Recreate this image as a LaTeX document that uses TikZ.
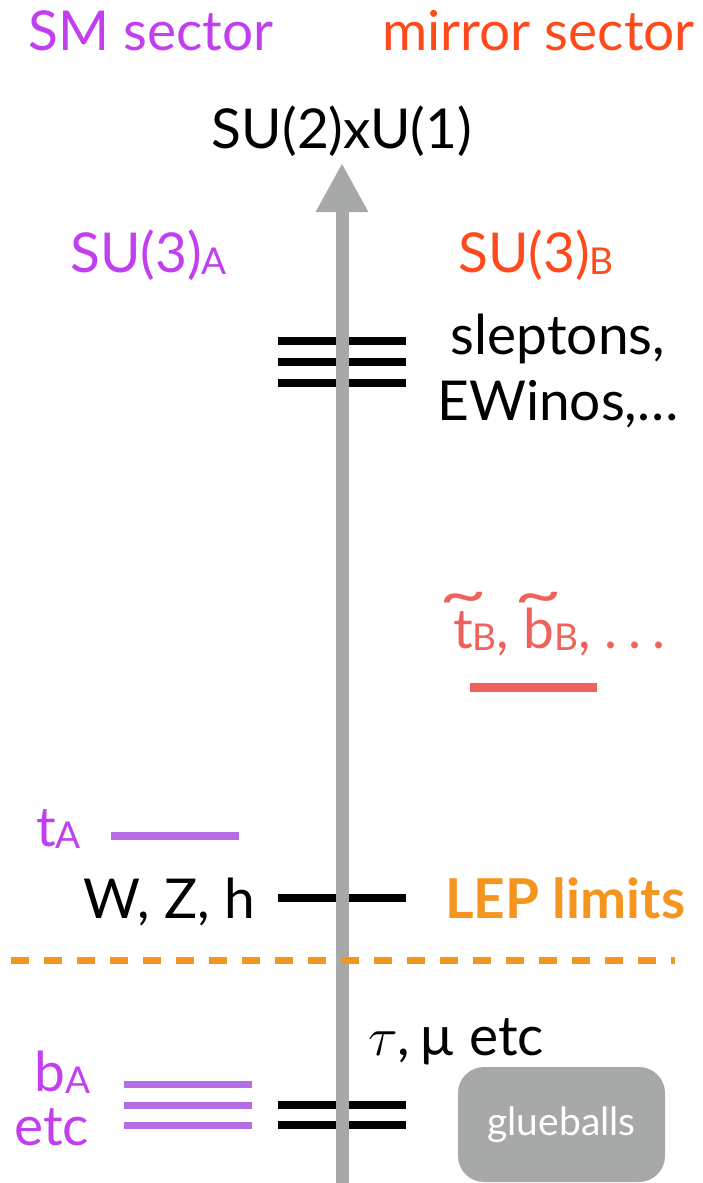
\RequirePackage{fix-cm}
\documentclass[tikz,border=0pt]{standalone}
\usepackage{fontspec}
\setmainfont{Lato}
\usepackage{xcolor}
\usepackage{graphicx}
\usepackage{tikz}
\usetikzlibrary{arrows.meta, positioning}

\definecolor{smpurple}{HTML}{C23FF0}
\definecolor{mirred}{HTML}{FF4A1C}
\definecolor{sqred}{HTML}{EF625C}
\definecolor{levpurple}{HTML}{B46DE3}
\definecolor{lepor}{HTML}{F3951F}
\definecolor{axgray}{HTML}{A6A9A8}

\tikzstyle{lbl} = [inner sep=0pt, font=\fontsize{55}{64}\selectfont]
\tikzstyle{lev} = [rectangle, inner sep=0pt, minimum width=128pt, minimum height=8pt]
\tikzstyle{axis} = [line width=13pt, draw=axgray, -{Triangle[length=49pt, width=49pt]}]
\tikzstyle{lepdash} = [draw=lepor, line width=7pt, dash pattern=on 18pt off 15pt]
\tikzstyle{glbox} = [rectangle, rounded corners=26pt, fill=axgray, minimum width=207pt, minimum height=115pt, text=white, font=\fontsize{39}{45}\selectfont]

\newcommand{\sbs}[1]{\raisebox{-0.04em}{\fontsize{37}{37}\selectfont #1}}
\newcommand{\wt}[1]{\leavevmode\setbox0\hbox{#1}\rlap{\hbox to\wd0{\hss\raisebox{0.6em}{\scalebox{1.5}[1.1]{\char"7E}}\hss}}#1}

\begin{document}
\begin{tikzpicture}[x=1pt, y=-1pt]
    \useasboundingbox (0,0) rectangle (702,1183);

    % Levels
    \node [lev, fill=black] (sl1) at (342,341) {};
    \node [lev, fill=black] (sl2) at (342,362) {};
    \node [lev, fill=black] (sl3) at (342,383) {};
    \node [lev, fill=sqred, minimum width=127pt, minimum height=9pt] (sqlev) at (533.5,687) {};
    \node [lev, fill=levpurple] (tlev) at (175,836) {};
    \node [lev, fill=black] (wzlev) at (342,898) {};
    \node [lev, fill=levpurple, minimum height=7pt] (bl1) at (187.5,1084) {};
    \node [lev, fill=levpurple, minimum height=7pt] (bl2) at (187.5,1105) {};
    \node [lev, fill=levpurple, minimum height=7pt] (bl3) at (187.5,1125) {};
    \node [lev, fill=black] (lt1) at (342,1105) {};
    \node [lev, fill=black] (lt2) at (342,1125) {};

    % Energy axis
    \coordinate (axbot) at (342,1183);
    \coordinate (axtop) at (342,163);
    \draw [axis] (axbot) -- (axtop);

    % LEP bound
    \coordinate (lepl) at (11,960);
    \coordinate (lepr) at (675,960);
    \draw [lepdash] (lepl) -- (lepr);

    % Labels
    \node [lbl, text=smpurple, anchor=base west] (smsec) at (28,50) {SM sector};
    \node [lbl, text=mirred, anchor=base east] (mirsec) at (695,50) {mirror sector};
    \node [lbl, anchor=base] (ewk) at (342,148) {SU(2)xU(1)};
    \node [lbl, text=smpurple, anchor=base west] (su3a) at (70,272) {SU(3)\sbs{A}};
    \node [lbl, text=mirred, anchor=base west] (su3b) at (458,272) {SU(3)\sbs{B}};
    \node [lbl, anchor=base] (slep) at (558,354) {sleptons,};
    \node [lbl, anchor=base] (ewino) at ([yshift=-66pt]slep.base) {EWinos,…};
    \node [lbl, text=sqred, anchor=base west] (sqlbl) at (453,648) {\wt{t}\sbs{B}, \wt{b}\sbs{B}, .\hspace{0.2em}.\hspace{0.2em}.};
    \node [lbl, text=smpurple, anchor=base west] (tlbl) at (36,846) {t\sbs{A}};
    \node [lbl, anchor=base east] (wzlbl) at (255,918) {W, Z, h};
    \node [lbl, text=lepor, anchor=base west, font=\fontsize{55}{64}\selectfont\bfseries] (leplbl) at (445,918) {LEP limits};
    \node [lbl, anchor=base west] (ltlbl) at (368,1055) {$\tau$,\,µ etc};
    \node [lbl, text=smpurple, anchor=base west] (blbl) at (34,1091) {b\sbs{A}};
    \node [lbl, text=smpurple, anchor=base west] (etclbl) at (14,1145) {etc};
    \node [glbox] (glue) at (561.5,1124.5) {glueballs};
\end{tikzpicture}
\end{document}
